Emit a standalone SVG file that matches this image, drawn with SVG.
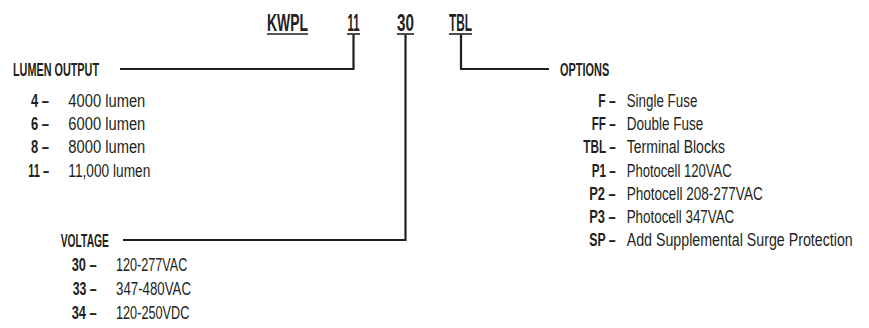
<svg xmlns="http://www.w3.org/2000/svg" width="869" height="328" viewBox="0 0 869 328">
<style>
text{font-family:"Liberation Sans",Arial,sans-serif;fill:#231f20}
.hd{font-weight:bold;font-size:23px}
.h{font-weight:bold;font-size:18px}
.c{font-weight:bold;font-size:17.5px}
.v{font-size:17.5px}
.ul{stroke:#231f20;stroke-width:1.6}
.cn{fill:none;stroke:#231f20;stroke-width:2.2}
</style>
<rect width="869" height="328" fill="#fff"/>
<g id="header">
<g id="code-kwpl"><text class="hd" x="267" y="31" textLength="41" lengthAdjust="spacingAndGlyphs">KWPL</text><line class="ul" x1="267" y1="34" x2="308" y2="34"/></g>
<g id="code-11"><text class="hd" x="347.5" y="31" textLength="12" lengthAdjust="spacingAndGlyphs">11</text><line class="ul" x1="347" y1="34" x2="360" y2="34"/></g>
<g id="code-30"><text class="hd" x="397" y="31" textLength="17" lengthAdjust="spacingAndGlyphs">30</text><line class="ul" x1="397" y1="34" x2="414" y2="34"/></g>
<g id="code-tbl"><text class="hd" x="449" y="31" textLength="23" lengthAdjust="spacingAndGlyphs">TBL</text><line class="ul" x1="449" y1="34" x2="472" y2="34"/></g>
</g>
<g id="connectors">
<polyline class="cn" points="353.5,34.5 353.5,69 120,69"/>
<polyline class="cn" points="405.5,34.5 405.5,240 123,240"/>
<polyline class="cn" points="461,34.5 461,69 549,69"/>
</g>
<g id="lumen-output">
<text class="h" x="13" y="75.5" textLength="86" lengthAdjust="spacingAndGlyphs">LUMEN OUTPUT</text>
<text class="c" x="31" y="107" textLength="18" lengthAdjust="spacingAndGlyphs">4 –</text>
<text class="v" x="68.3" y="107" textLength="77" lengthAdjust="spacingAndGlyphs">4000 lumen</text>
<text class="c" x="31" y="130.2" textLength="18" lengthAdjust="spacingAndGlyphs">6 –</text>
<text class="v" x="68.3" y="130.2" textLength="77" lengthAdjust="spacingAndGlyphs">6000 lumen</text>
<text class="c" x="31" y="153.4" textLength="18" lengthAdjust="spacingAndGlyphs">8 –</text>
<text class="v" x="68.3" y="153.4" textLength="77" lengthAdjust="spacingAndGlyphs">8000 lumen</text>
<text class="c" x="28.3" y="176.6" textLength="20.7" lengthAdjust="spacingAndGlyphs">11 –</text>
<text class="v" x="68.3" y="176.6" textLength="82" lengthAdjust="spacingAndGlyphs">11,000 lumen</text>
</g>
<g id="voltage">
<text class="h" x="60.7" y="246.5" textLength="48.3" lengthAdjust="spacingAndGlyphs">VOLTAGE</text>
<text class="c" x="71.7" y="271" textLength="25" lengthAdjust="spacingAndGlyphs">30 –</text>
<text class="v" x="116" y="271" textLength="71.3" lengthAdjust="spacingAndGlyphs">120-277VAC</text>
<text class="c" x="72.7" y="295" textLength="24" lengthAdjust="spacingAndGlyphs">33 –</text>
<text class="v" x="116" y="295" textLength="75" lengthAdjust="spacingAndGlyphs">347-480VAC</text>
<text class="c" x="71.7" y="319" textLength="25" lengthAdjust="spacingAndGlyphs">34 –</text>
<text class="v" x="116" y="319" textLength="73.3" lengthAdjust="spacingAndGlyphs">120-250VDC</text>
</g>
<g id="options">
<text class="h" x="560" y="75.5" textLength="49.3" lengthAdjust="spacingAndGlyphs">OPTIONS</text>
<text class="c" x="598.3" y="107" textLength="17.4" lengthAdjust="spacingAndGlyphs">F –</text>
<text class="v" x="626.7" y="107" textLength="70.7" lengthAdjust="spacingAndGlyphs">Single Fuse</text>
<text class="c" x="591.7" y="130.2" textLength="24" lengthAdjust="spacingAndGlyphs">FF –</text>
<text class="v" x="626.7" y="130.2" textLength="76.7" lengthAdjust="spacingAndGlyphs">Double Fuse</text>
<text class="c" x="583.3" y="153.4" textLength="32.4" lengthAdjust="spacingAndGlyphs">TBL –</text>
<text class="v" x="626.7" y="153.4" textLength="98.3" lengthAdjust="spacingAndGlyphs">Terminal Blocks</text>
<text class="c" x="591.7" y="176.6" textLength="24" lengthAdjust="spacingAndGlyphs">P1 –</text>
<text class="v" x="626.7" y="176.6" textLength="105" lengthAdjust="spacingAndGlyphs">Photocell 120VAC</text>
<text class="c" x="589.3" y="199.8" textLength="26.4" lengthAdjust="spacingAndGlyphs">P2 –</text>
<text class="v" x="626.7" y="199.8" textLength="136" lengthAdjust="spacingAndGlyphs">Photocell 208-277VAC</text>
<text class="c" x="589.3" y="223" textLength="26.4" lengthAdjust="spacingAndGlyphs">P3 –</text>
<text class="v" x="626.7" y="223" textLength="107.6" lengthAdjust="spacingAndGlyphs">Photocell 347VAC</text>
<text class="c" x="589.3" y="246.2" textLength="26.4" lengthAdjust="spacingAndGlyphs">SP –</text>
<text class="v" x="626.7" y="246.2" textLength="226" lengthAdjust="spacingAndGlyphs">Add Supplemental Surge Protection</text>
</g>
</svg>
